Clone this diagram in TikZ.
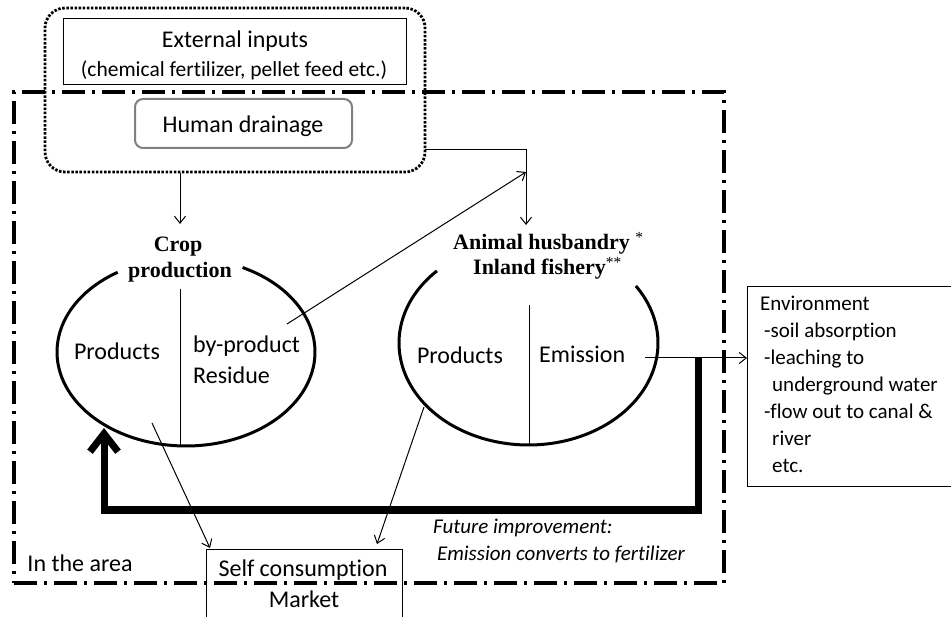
\documentclass[tikz,border=0pt]{standalone}
\usepackage{fontspec}
\setmainfont{Carlito}[Ligatures=NoCommon]
\newfontfamily\tnr{Liberation Serif}
\usetikzlibrary{arrows.meta}
\begin{document}
\begin{tikzpicture}[x=1pt,y=-1pt,
  conn/.style={line width=1pt, -{Straight Barb[length=7pt,width=11pt]}},
  plain/.style={line width=1pt},
  txt/.style={inner sep=0pt, font=\fontsize{24}{29}\selectfont},
  etxt/.style={inner sep=0pt, anchor=base west, font=\fontsize{21}{25}\selectfont},
  btxt/.style={inner sep=0pt, font=\tnr\bfseries\fontsize{22}{26}\selectfont},
  itxt/.style={inner sep=0pt, anchor=west, font=\itshape\fontsize{21}{25}\selectfont},
  oval/.style={line width=3pt},
  dashdot/.style={line width=3.5pt, dash pattern=on 23pt off 7pt on 3pt off 7pt},
  dotbox/.style={line width=2.8pt, dash pattern=on 2.5pt off 1.6pt, rounded corners=20pt},
  boxnode/.style={draw, line width=1pt, inner sep=0pt}
]
\useasboundingbox (0,0) rectangle (951,617);

% area boundary
\node[dashdot, draw, minimum width=710pt, minimum height=491pt, inner sep=0pt] (area) at (369,337.5) {};
\node[txt] (ita) at (80,563.5) {In the area};

% inputs
\node[dotbox, draw, minimum width=380pt, minimum height=164pt, inner sep=0pt] (inp) at (235,90) {};
\node[boxnode, minimum width=343pt, minimum height=66pt] (ext) at (234.5,52) {};
\node[txt] (ext1) at (235,41) {External inputs};
\node[inner sep=0pt, font=\fontsize{21.5}{25}\selectfont] (ext2) at (234,70) {(chemical fertilizer, pellet feed etc.)};
\node[draw=black!50, line width=2pt, rounded corners=8pt, minimum width=217pt, minimum height=49pt, inner sep=0pt] (hd) at (243.5,123.5) {};
\node[txt] (hdt) at (243,126) {Human drainage};

% crop production
\draw[oval] plot[smooth, domain=-64:238, samples=120] ({186+129*cos(\x)},{352+94*sin(\x)});
\draw[plain] (180,289) -- (180,446);
\node[btxt, anchor=base] (crop1) at (178,252) {Crop};
\node[btxt, anchor=base] (crop2) at (180,278) {production};
\node[txt] (cp) at (117,351.5) {Products};
\node[txt, anchor=west] (cbp) at (193,346) {by-product};
\node[txt, anchor=west] (cres) at (193,375.5) {Residue};

% animal husbandry
\draw[oval] plot[smooth, domain=-34:225, samples=120] ({528.5+129.5*cos(\x)},{343+102*sin(\x)});
\draw[plain] (529,305) -- (529,445);
\node[btxt, anchor=base west] (an1) at (453,250) {Animal husbandry \textsuperscript{\mdseries*}};
\node[btxt, anchor=base west] (an2) at (473,275) {Inland fishery\textsuperscript{\mdseries**}};
\node[txt] (ap) at (460,355) {Products};
\node[txt, anchor=west] (aem) at (539,354.5) {Emission};

% environment
\node[boxnode, anchor=north west, minimum width=215pt, minimum height=200pt] (env) at (747,286) {};
\node[etxt] (env1) at (760,311) {Environment};
\node[etxt] (env2) at (764,338) {-soil absorption};
\node[etxt] (env3) at (764,365) {-leaching to};
\node[etxt] (env4) at (772,392) {underground water};
\node[etxt] (env5) at (764,419) {-flow out to canal \&};
\node[etxt] (env6) at (772,446) {river};
\node[etxt] (env7) at (772,473) {etc.};

% self consumption / market
\node[boxnode, anchor=north west, minimum width=196pt, minimum height=80pt] (sc) at (206,549) {};
\node[txt] (sct) at (303,570) {Self consumption};
\node[txt] (mk) at (304,599.5) {Market};

% future improvement
\node[itxt] (fi1) at (433,528) {Future improvement:};
\node[itxt] (fi2) at (437,554.5) {Emission converts to fertilizer};

% connector coordinates
\coordinate (croptop) at (180,224);
\coordinate (ain) at (425,150);
\coordinate (atop) at (526,225);
\coordinate (bpS) at (287,324);
\coordinate (bpE) at (526,172);
\coordinate (emS) at (645,358);
\coordinate (cpS) at (152,423);
\coordinate (scA) at (210,548);
\coordinate (apS) at (424,407);
\coordinate (scB) at (377,544);
\coordinate (tk1) at (698,358);
\coordinate (tk2) at (698,510);
\coordinate (tk3) at (104,510);
\coordinate (tk4) at (104,428);

% connectors
\draw[conn] (croptop |- inp.south) -- (croptop);
\draw[conn] (ain) -| (atop);
\draw[conn] (bpS) -- (bpE);
\draw[conn] (emS) -- (emS -| env.west);
\draw[conn] (cpS) -- (scA);
\draw[conn] (apS) -- (scB);
\draw[line width=7pt, -{Straight Barb[length=18pt,width=28pt]}] (tk1) -- (tk2) -- (tk3) -- (tk4);
\end{tikzpicture}
\end{document}
